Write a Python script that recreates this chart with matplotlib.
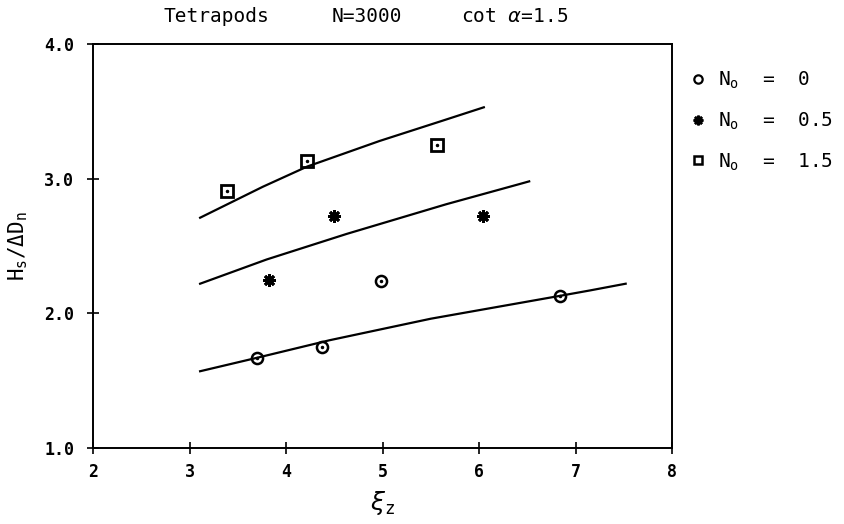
import matplotlib.pyplot as plt
from matplotlib.lines import Line2D

# measured points
xi_n0 = [3.70, 4.37, 4.98, 6.84]
h_n0 = [1.67, 1.75, 2.24, 2.13]
xi_n05 = [3.82, 4.50, 6.04]
h_n05 = [2.25, 2.72, 2.72]
xi_n15 = [3.39, 4.22, 5.56]
h_n15 = [2.91, 3.13, 3.25]

# fitted curves
cx_n0 = [3.11, 3.70, 4.45, 5.50, 6.84, 7.15, 7.52]
cy_n0 = [1.57, 1.67, 1.80, 1.96, 2.13, 2.17, 2.22]
cx_n05 = [3.11, 3.80, 4.63, 5.66, 6.42, 6.52]
cy_n05 = [2.22, 2.40, 2.59, 2.81, 2.96, 2.98]
cx_n15 = [3.11, 3.76, 4.22, 4.97, 5.62, 6.05]
cy_n15 = [2.71, 2.94, 3.09, 3.28, 3.43, 3.53]

xticks = [2, 3, 4, 5, 6, 7, 8]
yticks = [1.0, 2.0, 3.0, 4.0]

mono = 'DejaVu Sans Mono'
plt.rcParams['font.family'] = mono
plt.rcParams['mathtext.fontset'] = 'custom'
plt.rcParams['mathtext.rm'] = mono

fig = plt.figure(figsize=(8.44, 5.24), dpi=100)
ax = fig.add_axes([93/844, 1 - 448/524, (672 - 93)/844, (448 - 44)/524])

for cx, cy in [(cx_n0, cy_n0), (cx_n05, cy_n05), (cx_n15, cy_n15)]:
    ax.plot(cx, cy, color='black', lw=1.6, solid_joinstyle='round')

ax.plot(xi_n0, h_n0, 'o', mfc='none', mec='black', mew=1.8, ms=8)
ax.plot(xi_n0, h_n0, '.', color='black', ms=3)
ax.plot(xi_n05, h_n05, marker=(8, 2, 0), ls='none', color='black', mew=2.0, ms=9)
ax.plot(xi_n15, h_n15, 's', mfc='none', mec='black', mew=2.0, ms=8)
ax.plot(xi_n15, h_n15, '.', color='black', ms=3)

ax.set_xlim(2, 8)
ax.set_ylim(1, 4)
ax.set_xticks(xticks)
ax.set_yticks(yticks)
ax.set_xticklabels([str(t) for t in xticks], fontweight='bold', fontsize=12)
ax.set_yticklabels(['%.1f' % t for t in yticks], fontweight='bold', fontsize=12)
ax.tick_params(direction='inout', length=9, width=1.2, pad=6)
ax.tick_params(axis='y', pad=9)
for s in ax.spines.values():
    s.set_linewidth(1.4)

ax.set_xlabel(r'$\xi_\mathregular{z}$', fontsize=18, labelpad=6)
ax.set_ylabel(r'H$_\mathregular{s}$/$\Delta$D$_\mathregular{n}$', fontsize=15, labelpad=10)

fig.text(216/844, 1 - 17/524, 'Tetrapods', ha='center', va='center', fontsize=14)
fig.text(367/844, 1 - 17/524, 'N=3000', ha='center', va='center', fontsize=14)
fig.text(515/844, 1 - 17/524, r'cot $\alpha$=1.5', ha='center', va='center', fontsize=14)

handles = [
    Line2D([], [], marker='o', ls='none', mfc='none', mec='black', mew=1.6, ms=6),
    Line2D([], [], marker=(8, 2, 0), ls='none', color='black', mew=1.8, ms=7),
    Line2D([], [], marker='s', ls='none', mfc='none', mec='black', mew=1.8, ms=6),
]
labels = [r'N$_\mathregular{o}$  =  0', r'N$_\mathregular{o}$  =  0.5', r'N$_\mathregular{o}$  =  1.5']
ax.legend(handles, labels, loc='upper left', bbox_to_anchor=(1.005, 0.97),
          frameon=False, fontsize=14, handletextpad=0.5, labelspacing=1.0,
          handlelength=1.0, borderaxespad=0.3)

fig.savefig('out.png', dpi=100)
